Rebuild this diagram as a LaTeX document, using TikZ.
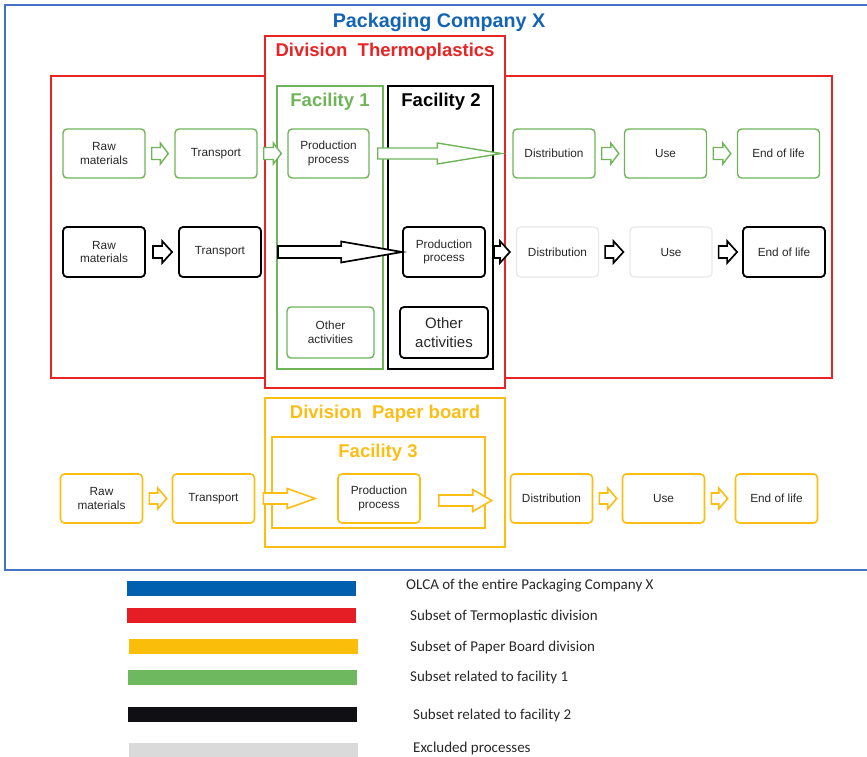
\documentclass[tikz,border=0pt]{standalone}
\usepackage{fontspec}
\setmainfont{Liberation Sans}
\newfontfamily\legfont{Carlito}
\usetikzlibrary{calc}
\definecolor{cblue}{RGB}{68,114,196}
\definecolor{tblue}{RGB}{20,100,180}
\definecolor{cred}{RGB}{232,36,36}
\definecolor{cyel}{RGB}{252,190,20}
\definecolor{cgreen}{RGB}{112,180,90}
\definecolor{cgrey}{RGB}{232,232,232}
\definecolor{ctext}{RGB}{40,40,40}
\definecolor{lblue}{RGB}{0,96,175}
\definecolor{lred}{RGB}{228,30,36}
\definecolor{lyel}{RGB}{250,190,10}
\definecolor{lgreen}{RGB}{110,185,95}
\definecolor{lblack}{RGB}{15,15,20}
\definecolor{lgrey}{RGB}{218,218,218}
\newcommand\blockarr[6]{%
  \draw[#1] let \p1=(#2), \p2=(#3) in
    (\x1,\y1+#4) -- (\x2-#6,\y1+#4) -- (\x2-#6,\y1+#5) -- (\x2,\y1)
    -- (\x2-#6,\y1-#5) -- (\x2-#6,\y1-#4) -- (\x1,\y1-#4) -- cycle;}
\tikzset{
  pbox/.style={draw, rounded corners=4pt, fill=white, minimum width=82pt, minimum height=49pt,
    inner sep=0pt, align=center, text=ctext, font=\fontsize{11.8}{13.5}\selectfont},
  gbox/.style={pbox, draw=cgreen, line width=1.4pt},
  kbox/.style={pbox, draw=black, line width=1.8pt},
  xbox/.style={pbox, draw=cgrey, line width=1.2pt},
  ybox/.style={pbox, draw=cyel, line width=1.6pt},
  ttl/.style={font=\fontsize{18.5}{20}\selectfont\bfseries, inner sep=0pt},
  garr/.style={draw=cgreen, fill=white, line width=1.4pt, line join=miter},
  karr/.style={draw=black, fill=white, line width=1.7pt, line join=miter},
  yarr/.style={draw=cyel, fill=white, line width=1.6pt, line join=miter},
  legbar/.style={minimum width=229pt, minimum height=15pt, inner sep=0pt},
  legtxt/.style={anchor=west, inner sep=0pt, text=ctext, font=\legfont\fontsize{15}{17}\selectfont},
}
\begin{document}
\begin{tikzpicture}[x=1pt,y=-1pt]
\useasboundingbox (0,0) rectangle (867,757);
% outer company frame
\draw[cblue, line width=2pt] (5,5) rectangle (875,570);
\node[ttl, text=tblue, font=\fontsize{19.7}{21}\selectfont\bfseries] (tco) at (439,22) {Packaging Company X};
% thermoplastics division
\draw[cred, line width=1.7pt] (51,76) rectangle (832,378);
\draw[cred, line width=1.7pt, fill=white] (265,36) rectangle (505,388);
\node[ttl, text=cred] (tdt) at (385,52) {Division\ \ Thermoplastics};
\draw[cgreen, line width=1.6pt] (277,86) rectangle (383,369);
\draw[black, line width=1.8pt] (388,86) rectangle (493,369);
\node[ttl, text=cgreen] (tf1) at (330,102) {Facility 1};
\node[ttl, text=black] (tf2) at (441,102) {Facility 2};
% paper board division
\draw[cyel, line width=1.8pt] (265,398) rectangle (505,547);
\node[ttl, text=cyel] (tdp) at (385,414) {Division\ \ Paper board};
\draw[cyel, line width=1.8pt] (272,437) rectangle (485,528);
\node[ttl, text=cyel] (tf3) at (378,453) {Facility 3};
% green row
\node[gbox] (graw) at (104,153.5) {Raw\\materials};
\node[gbox] (gtr) at (216,153.5) {Transport};
\node[gbox, minimum width=81pt] (gprod) at (328.5,153.5) {Production\\process};
\node[gbox] (gdist) at (554,153.5) {Distribution};
\node[gbox] (guse) at (665.5,153.5) {Use};
\node[gbox] (gend) at (778.5,153.5) {End of life};
% black row
\node[kbox, minimum height=50pt] (kraw) at (104,252) {Raw\\materials};
\node[kbox, minimum height=50pt] (ktr) at (220,252) {Transport};
\node[kbox, minimum height=50pt] (kprod) at (444,252) {Production\\process};
\node[xbox, minimum height=50pt] (kdist) at (557.5,252) {Distribution};
\node[xbox, minimum height=50pt] (kuse) at (671,252) {Use};
\node[kbox, minimum height=50pt] (kend) at (784,252) {End of life};
% other activities
\node[gbox, minimum width=87pt, minimum height=51pt] (goth) at (330.5,332.5) {Other\\activities};
\node[kbox, minimum width=88pt, minimum height=51pt, font=\fontsize{15}{19}\selectfont] (koth) at (444,332.5) {Other\\activities};
% yellow row
\node[ybox] (yraw) at (101.5,498.5) {Raw\\materials};
\node[ybox] (ytr) at (213.5,498.5) {Transport};
\node[ybox] (yprod) at (379,498.5) {Production\\process};
\node[ybox] (ydist) at (551.5,498.5) {Distribution};
\node[ybox] (yuse) at (663.5,498.5) {Use};
\node[ybox] (yend) at (776.5,498.5) {End of life};
% green arrows
\blockarr{garr}{$(graw.east)+(6,0)$}{$(gtr.west)+(-6,0)$}{6pt}{10.5pt}{8pt}
\blockarr{garr}{$(gtr.east)+(6,0)$}{$(gprod.west)+(-6,0)$}{6pt}{10.5pt}{8pt}
\blockarr{garr}{$(gprod.east)+(8,0)$}{$(gdist.west)+(-11,0)$}{5.5pt}{10.5pt}{64pt}
\blockarr{garr}{$(gdist.east)+(6,0)$}{$(guse.west)+(-5,0)$}{6pt}{10.5pt}{8pt}
\blockarr{garr}{$(guse.east)+(6,0)$}{$(gend.west)+(-6,0)$}{6pt}{10.5pt}{8pt}
% black arrows
\coordinate (kstart) at (278,252);
\blockarr{karr}{$(kraw.east)+(7,0)$}{$(ktr.west)+(-6,0)$}{6pt}{11pt}{10pt}
\blockarr{karr}{kstart}{kprod.west}{6pt}{10.5pt}{61pt}
\blockarr{karr}{$(kprod.east)+(8,0)$}{$(kdist.west)+(-6,0)$}{6pt}{11pt}{10pt}
\blockarr{karr}{$(kdist.east)+(6,0)$}{$(kuse.west)+(-6,0)$}{6pt}{11pt}{10pt}
\blockarr{karr}{$(kuse.east)+(6,0)$}{$(kend.west)+(-5,0)$}{6pt}{11pt}{10pt}
% yellow arrows
\blockarr{yarr}{$(yraw.east)+(6,0)$}{$(ytr.west)+(-5,0)$}{5.5pt}{10.5pt}{9pt}
\blockarr{yarr}{$(ytr.east)+(8,0)$}{$(yprod.west)+(-22,0)$}{5.5pt}{10pt}{28pt}
\blockarr{yarr}{$(yprod.east)+(18,2)$}{$(ydist.west)+(-18,2)$}{5.5pt}{11pt}{19pt}
\blockarr{yarr}{$(ydist.east)+(6,0)$}{$(yuse.west)+(-5,0)$}{5.5pt}{10.5pt}{9pt}
\blockarr{yarr}{$(yuse.east)+(6,0)$}{$(yend.west)+(-7,0)$}{5.5pt}{10.5pt}{9pt}
% legend
\node[legbar, fill=lblue] (b1) at (241.5,588.5) {};
\node[legbar, fill=lred] (b2) at (241.5,615.5) {};
\node[legbar, fill=lyel] (b3) at (243.5,646.5) {};
\node[legbar, fill=lgreen] (b4) at (242.5,677) {};
\node[legbar, fill=lblack] (b5) at (242.5,714) {};
\node[legbar, fill=lgrey] (b6) at (243.5,750) {};
\node[legtxt] (l1) at (406,586) {OLCA of the entire Packaging Company X};
\node[legtxt] (l2) at (410,616) {Subset of Termoplastic division};
\node[legtxt] (l3) at (410,647) {Subset of Paper Board division};
\node[legtxt] (l4) at (410,677) {Subset related to facility 1};
\node[legtxt] (l5) at (413,715) {Subset related to facility 2};
\node[legtxt] (l6) at (413,748.5) {Excluded processes};
\end{tikzpicture}
\end{document}
